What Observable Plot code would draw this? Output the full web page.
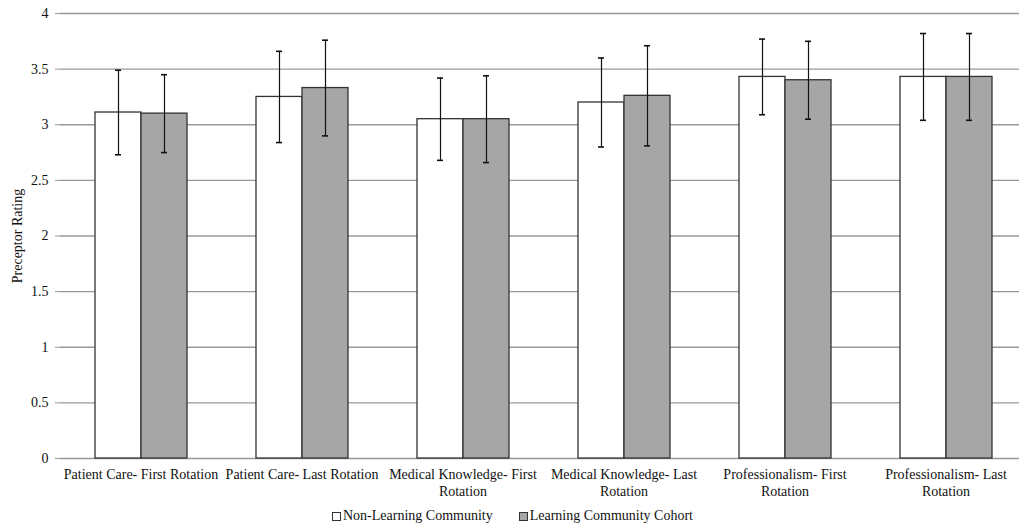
<!DOCTYPE html>
<html>
<head>
<meta charset="utf-8">
<script src="https://cdn.jsdelivr.net/npm/d3@7"></script>
<script src="https://cdn.jsdelivr.net/npm/@observablehq/plot@0.6"></script>
<style>
  html, body { margin: 0; padding: 0; background: #fff; }
  #chart svg { display: block; }
  #chart svg text { font-family: "Liberation Serif", "Times New Roman", serif; }
  #legend { display: flex; justify-content: center; gap: 26px; font-family: "Liberation Serif", "Times New Roman", serif; font-size: 14px; color: #111; height: 26px; align-items: center; margin-left: 6px; }
  #legend span.item { display: inline-flex; align-items: center; }
  #legend span.sw { display: inline-block; width: 7px; height: 7px; border: 1px solid #333; margin-right: 2px; }
</style>
</head>
<body>
<div id="chart"></div>
<div id="legend"></div>
<script>
const categories = [
  "Patient Care- First Rotation",
  "Patient Care- Last Rotation",
  "Medical Knowledge- First Rotation",
  "Medical Knowledge- Last Rotation",
  "Professionalism- First Rotation",
  "Professionalism- Last Rotation"
];
const tickLabels = [
  "Patient Care- First Rotation",
  "Patient Care- Last Rotation",
  "Medical Knowledge- First\nRotation",
  "Medical Knowledge- Last\nRotation",
  "Professionalism- First\nRotation",
  "Professionalism- Last\nRotation"
];
const seriesNames = ["Non-Learning Community", "Learning Community Cohort"];
const nonLC = [3.11, 3.25, 3.05, 3.20, 3.43, 3.43];
const nonLCErr = [0.38, 0.41, 0.37, 0.40, 0.34, 0.39];
const lc = [3.10, 3.33, 3.05, 3.26, 3.40, 3.43];
const lcErr = [0.35, 0.43, 0.39, 0.45, 0.35, 0.39];
const yTicks = [0, 0.5, 1, 1.5, 2, 2.5, 3, 3.5, 4];
const seriesColors = ["#ffffff", "#a6a6a6"];

const data = categories.flatMap((c, i) => [
  {category: c, series: seriesNames[0], value: nonLC[i], err: nonLCErr[i]},
  {category: c, series: seriesNames[1], value: lc[i], err: lcErr[i]}
]);

const chart = Plot.plot({
  width: 1019,
  height: 503,
  marginLeft: 57,
  marginRight: 0,
  marginTop: 13,
  marginBottom: 45,
  style: "font-family: 'Liberation Serif', 'Times New Roman', serif; font-size: 14px; background: #fff; color: #111;",
  fx: {domain: categories, range: [57, 1028], padding: 0},
  x: {domain: seriesNames, paddingInner: 0, paddingOuter: 0.75, axis: null},
  y: {domain: [0, 4]},
  color: {domain: seriesNames, range: seriesColors},
  marks: [
    Plot.ruleY(yTicks, {stroke: "#999", strokeWidth: 1.3}),
    Plot.axisY({ticks: yTicks, tickFormat: d => String(d), tickSize: 5, tickPadding: 7, stroke: "#999", line: true, label: "Preceptor Rating", labelAnchor: "center", labelArrow: "none", labelOffset: 48, fontSize: 14}),
    Plot.axisFx({anchor: "bottom", tickSize: 0, tickPadding: 9, label: null, fontSize: 14, lineHeight: 1.2, tickFormat: c => tickLabels[categories.indexOf(c)]}),
    Plot.barY(data, {fx: "category", x: "series", y: "value", fill: "series", stroke: "#333", strokeWidth: 1.3}),
    Plot.ruleX(data, {fx: "category", x: "series", y1: d => d.value - d.err, y2: d => d.value + d.err, stroke: "#111", strokeWidth: 1.2}),
    Plot.tickY(data, {fx: "category", x: "series", y: d => d.value - d.err, insetLeft: 20, insetRight: 20, stroke: "#111", strokeWidth: 1.6}),
    Plot.tickY(data, {fx: "category", x: "series", y: d => d.value + d.err, insetLeft: 20, insetRight: 20, stroke: "#111", strokeWidth: 1.6})
  ]
});
document.getElementById("chart").appendChild(chart);

const legend = document.getElementById("legend");
seriesNames.forEach((s, i) => {
  const item = document.createElement("span");
  item.className = "item";
  const sw = document.createElement("span");
  sw.className = "sw";
  sw.style.background = seriesColors[i];
  item.appendChild(sw);
  item.appendChild(document.createTextNode(s));
  legend.appendChild(item);
});
</script>
</body>
</html>
